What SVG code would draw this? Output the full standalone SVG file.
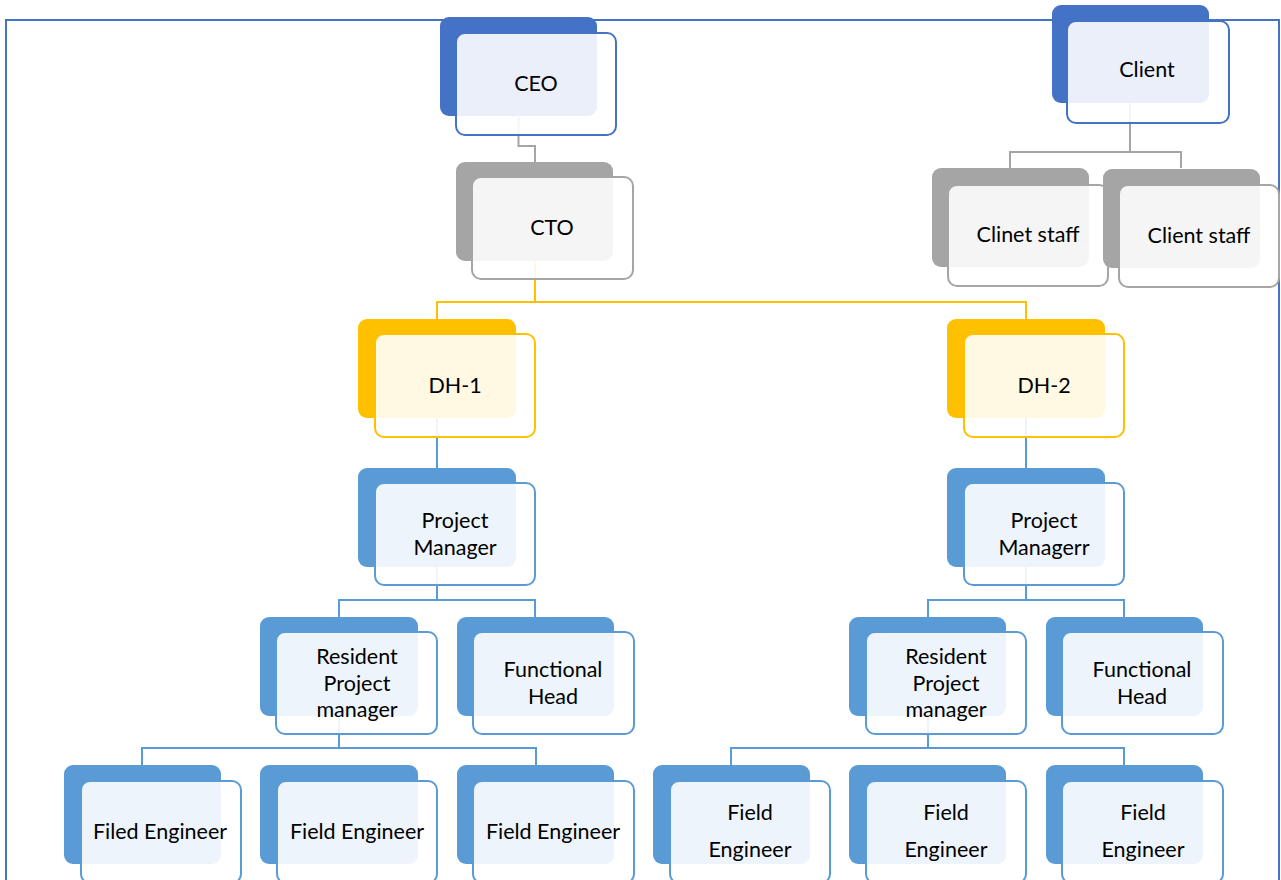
<svg xmlns="http://www.w3.org/2000/svg" width="1281" height="880" viewBox="0 0 1281 880">
<style>
text{font-family:Lato,"Liberation Sans",sans-serif;font-size:21.5px;fill:#000;text-anchor:middle}
.bk{stroke:none}
.fr{fill:#fff;fill-opacity:0.89;stroke-width:2}
.dB .bk{fill:#4472C4}.dB .fr{stroke:#4472C4}
.gB .bk{fill:#A5A5A5}.gB .fr{stroke:#A5A5A5}
.yB .bk{fill:#FFC000}.yB .fr{stroke:#FFC000}
.lB .bk{fill:#5B9BD5}.lB .fr{stroke:#5B9BD5}
.cn{fill:none;stroke-width:2}
</style>
<rect x="0" y="0" width="1281" height="880" fill="#fff"/>
<rect id="frame" x="6" y="20" width="1273" height="880" fill="none" stroke="#4472C4" stroke-width="2"/>
<g id="connectors">
<path class="cn" stroke="#A5A5A5" d="M518.5 117V146H535V162"/>
<path class="cn" stroke="#A5A5A5" d="M1130 103V152M1010 168V152H1181V168"/>
<path class="cn" stroke="#FFC000" d="M535 261V302M437 319V302H1026V319"/>
<path class="cn" stroke="#5B9BD5" d="M437 418V468M1026 418V468"/>
<path class="cn" stroke="#5B9BD5" d="M437 567V600M339 617V600H535V617"/>
<path class="cn" stroke="#5B9BD5" d="M1026 567V600M928 617V600H1124V617"/>
<path class="cn" stroke="#5B9BD5" d="M339 716V748M142 765V748H536V765"/>
<path class="cn" stroke="#5B9BD5" d="M928 716V748M731 765V748H1124V765"/>
</g>
<g id="ceo" class="dB"><rect class="bk" x="440" y="17" width="157" height="99" rx="9"/><rect class="fr" x="456" y="33" width="160" height="102" rx="9"/><text x="536" y="91">CEO</text></g>
<g id="cto" class="gB"><rect class="bk" x="456" y="162" width="157" height="99" rx="9"/><rect class="fr" x="472" y="177" width="161" height="102" rx="9"/><text x="552" y="235">CTO</text></g>
<g id="client" class="dB"><rect class="bk" x="1052" y="5" width="157" height="98" rx="9"/><rect class="fr" x="1067" y="21" width="162" height="102" rx="9"/><text x="1147" y="77">Client</text></g>
<g id="clientstaff1" class="gB"><rect class="bk" x="932" y="168" width="157" height="99" rx="9"/><rect class="fr" x="948" y="185" width="160" height="101" rx="9"/><text x="1028" y="242">Clinet staff</text></g>
<g id="clientstaff2" class="gB"><rect class="bk" x="1103" y="169" width="157" height="99" rx="9"/><rect class="fr" x="1119" y="185" width="160" height="102" rx="9"/><text x="1199" y="243">Client staff</text></g>
<g id="dh1" class="yB"><rect class="bk" x="358" y="319" width="158" height="99" rx="9"/><rect class="fr" x="375" y="334" width="160" height="103" rx="9"/><text x="455" y="393">DH-1</text></g>
<g id="dh2" class="yB"><rect class="bk" x="947" y="319" width="158" height="99" rx="9"/><rect class="fr" x="964" y="334" width="160" height="103" rx="9"/><text x="1044" y="393">DH-2</text></g>
<g id="pm1" class="lB"><rect class="bk" x="358" y="468" width="158" height="99" rx="9"/><rect class="fr" x="375" y="483" width="160" height="102" rx="9"/><text x="455" y="528">Project</text><text x="455" y="555">Manager</text></g>
<g id="pm2" class="lB"><rect class="bk" x="947" y="468" width="158" height="99" rx="9"/><rect class="fr" x="964" y="483" width="160" height="102" rx="9"/><text x="1044" y="528">Project</text><text x="1044" y="555">Managerr</text></g>
<g id="rpm1" class="lB"><rect class="bk" x="260" y="617" width="158" height="99" rx="9"/><rect class="fr" x="276" y="632" width="161" height="102" rx="9"/><text x="357" y="664">Resident</text><text x="357" y="691">Project</text><text x="357" y="717">manager</text></g>
<g id="fh1" class="lB"><rect class="bk" x="457" y="617" width="157" height="99" rx="9"/><rect class="fr" x="473" y="632" width="161" height="102" rx="9"/><text x="553" y="677">Functional</text><text x="553" y="704">Head</text></g>
<g id="rpm2" class="lB"><rect class="bk" x="849" y="617" width="157" height="99" rx="9"/><rect class="fr" x="866" y="632" width="160" height="102" rx="9"/><text x="946" y="664">Resident</text><text x="946" y="691">Project</text><text x="946" y="717">manager</text></g>
<g id="fh2" class="lB"><rect class="bk" x="1046" y="617" width="157" height="99" rx="9"/><rect class="fr" x="1062" y="632" width="161" height="102" rx="9"/><text x="1142" y="677">Functional</text><text x="1142" y="704">Head</text></g>
<g id="fe1" class="lB"><rect class="bk" x="64" y="765" width="157" height="99" rx="9"/><rect class="fr" x="81" y="781" width="160" height="102" rx="9"/><text x="160" y="839">Filed Engineer</text></g>
<g id="fe2" class="lB"><rect class="bk" x="260" y="765" width="158" height="99" rx="9"/><rect class="fr" x="277" y="781" width="160" height="102" rx="9"/><text x="357" y="839">Field Engineer</text></g>
<g id="fe3" class="lB"><rect class="bk" x="457" y="765" width="157" height="99" rx="9"/><rect class="fr" x="473" y="781" width="161" height="102" rx="9"/><text x="553" y="839">Field Engineer</text></g>
<g id="fe4" class="lB"><rect class="bk" x="653" y="765" width="157" height="99" rx="9"/><rect class="fr" x="670" y="781" width="160" height="102" rx="9"/><text x="750" y="820">Field</text><text x="750" y="857">Engineer</text></g>
<g id="fe5" class="lB"><rect class="bk" x="849" y="765" width="157" height="99" rx="9"/><rect class="fr" x="866" y="781" width="160" height="102" rx="9"/><text x="946" y="820">Field</text><text x="946" y="857">Engineer</text></g>
<g id="fe6" class="lB"><rect class="bk" x="1046" y="765" width="157" height="99" rx="9"/><rect class="fr" x="1062" y="781" width="161" height="102" rx="9"/><text x="1143" y="820">Field</text><text x="1143" y="857">Engineer</text></g>
</svg>
